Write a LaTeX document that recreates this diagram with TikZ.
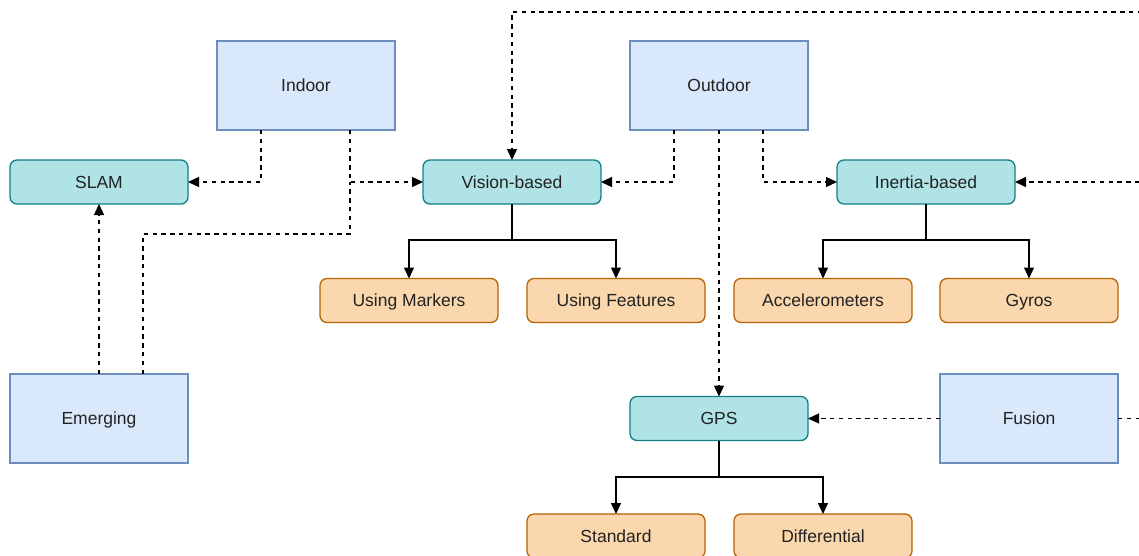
\documentclass[tikz,border=0pt]{standalone}
\usepackage{fontspec}
\setmainfont{Liberation Sans}
\usetikzlibrary{arrows.meta}
\definecolor{bluefill}{HTML}{DAE8FC}
\definecolor{bluedraw}{HTML}{6C8EBF}
\definecolor{tealfill}{HTML}{B0E3E6}
\definecolor{tealdraw}{HTML}{0E8088}
\definecolor{orangefill}{HTML}{FAD7AC}
\definecolor{orangedraw}{HTML}{B46504}
\definecolor{txt}{HTML}{222222}
\tikzset{
  base/.style={minimum width=178pt, inner sep=0pt, outer sep=0pt, line width=1.3pt, text=txt,
    font=\fontsize{17.5}{19}\selectfont, text height=12.5pt, text depth=0pt},
  areabox/.style={base, rectangle, minimum height=89pt, fill=bluefill, draw=bluedraw},
  methodbox/.style={base, rectangle, rounded corners=7pt, minimum height=44pt, fill=tealfill, draw=tealdraw},
  leafbox/.style={base, rectangle, rounded corners=7pt, minimum height=44pt, fill=orangefill, draw=orangedraw},
  dashline/.style={line width=1.3pt, dash pattern=on 4.4pt off 4.4pt},
  dashlink/.style={dashline, -{Triangle[length=11pt,width=10pt]}},
  solidlink/.style={line width=1.3pt, -{Triangle[length=11pt,width=10pt]}}
}
\begin{document}
\begin{tikzpicture}[x=1pt,y=-1pt]
\useasboundingbox (0,0) rectangle (1139,555);
\clip (0,0) rectangle (1139,555);
\fill[white] (0,0) rectangle (1139,555);

\node[areabox] (indoor) at (306,85.5) {Indoor};
\node[areabox] (outdoor) at (719,85.5) {Outdoor};
\node[areabox] (emerging) at (99,418.5) {Emerging};
\node[areabox] (fusion) at (1029,418.5) {Fusion};

\node[methodbox] (slam) at (99,182) {SLAM};
\node[methodbox] (vision) at (512,182) {Vision-based};
\node[methodbox] (inertia) at (926,182) {Inertia-based};
\node[methodbox] (gps) at (719,418.5) {GPS};

\node[leafbox] (markers) at (409,300.5) {Using Markers};
\node[leafbox] (features) at (616,300.5) {Using Features};
\node[leafbox] (accel) at (823,300.5) {Accelerometers};
\node[leafbox] (gyros) at (1029,300.5) {Gyros};
\node[leafbox] (standard) at (616,536) {Standard};
\node[leafbox] (diff) at (823,536) {Differential};

\coordinate (ej) at (350,234);
\coordinate (junction) at (350,182);
\coordinate (edgetop) at (1160,12);
\coordinate (edgemid) at (1160,182);

% dashed connectors
\draw[dashlink] ([xshift=-45pt]indoor.south) |- (slam.east);
\draw[dashlink] ([xshift=44pt]indoor.south) |- (vision.west);
\draw[dashlink] (emerging.north) -- (slam.south);
\draw[dashline] ([xshift=44pt]emerging.north) |- (ej) -- (junction);
\draw[dashlink] ([xshift=-45pt]outdoor.south) |- (vision.east);
\draw[dashlink] (outdoor.south) -- (gps.north);
\draw[dashlink] ([xshift=44pt]outdoor.south) |- (inertia.west);
\draw[dashlink] (fusion.west) -- (gps.east);
\draw[dashlink] (fusion.east) -| (edgemid) -- (inertia.east);
\draw[dashlink] (fusion.east) -| (edgetop) -| (vision.north);

% solid tree connectors
\draw[solidlink] (vision.south) -- ++(0,36) -| (markers.north);
\draw[solidlink] (vision.south) -- ++(0,36) -| (features.north);
\draw[solidlink] (inertia.south) -- ++(0,36) -| (accel.north);
\draw[solidlink] (inertia.south) -- ++(0,36) -| (gyros.north);
\draw[solidlink] (gps.south) -- ++(0,36.5) -| (standard.north);
\draw[solidlink] (gps.south) -- ++(0,36.5) -| (diff.north);
\end{tikzpicture}
\end{document}
